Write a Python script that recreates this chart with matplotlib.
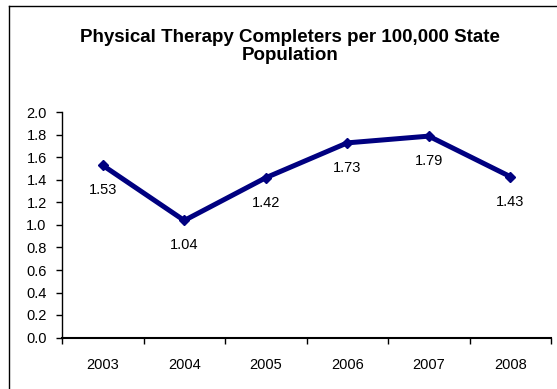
import matplotlib.pyplot as plt
from matplotlib.lines import Line2D

plt.rcParams['font.family'] = ['Liberation Sans', 'DejaVu Sans']

years = ['2003', '2004', '2005', '2006', '2007', '2008']
values = [1.53, 1.04, 1.42, 1.73, 1.79, 1.43]
yticks = [0.0, 0.2, 0.4, 0.6, 0.8, 1.0, 1.2, 1.4, 1.6, 1.8, 2.0]

W, H = 557, 389
fig = plt.figure(figsize=(W / 100, H / 100), dpi=100)
ax = fig.add_axes([62 / W, (H - 337.5) / H, (551 - 62) / W, 225 / H])

x = [i + 0.5 for i in range(len(years))]
ax.plot(x, values, color='#000080', lw=3.6, marker='D', ms=5,
        mec='#000080', mfc='#000080', solid_joinstyle='miter')
for xi, v in zip(x, values):
    ax.annotate('%.2f' % v, (xi, v), xytext=(0, -18), textcoords='offset points',
                ha='center', va='center', fontsize=10.5)

ax.set_xlim(0, len(years))
ax.set_ylim(0, 2.0)
ax.set_yticks(yticks)
ax.set_yticklabels(['%.1f' % t for t in yticks], fontsize=10.5)
ax.set_xticks(range(len(years) + 1))
ax.set_xticklabels([])
ax.set_xticks(x, minor=True)
ax.set_xticklabels(years, minor=True, fontsize=10.5)
ax.tick_params(axis='x', which='major', direction='out', length=4, width=1)
ax.tick_params(axis='x', which='minor', length=0, pad=15)
ax.tick_params(axis='y', direction='out', length=4, width=1, pad=7)

for s in ['top', 'right']:
    ax.spines[s].set_visible(False)
ax.spines['left'].set_linewidth(1)
ax.spines['bottom'].set_linewidth(1.5)

fig.text(290 / W, 1 - 46.5 / H, 'Physical Therapy Completers per 100,000 State\nPopulation',
         ha='center', va='center', fontsize=13.5, fontweight='bold', linespacing=1.05)

# chart frame (cropped at right and bottom)
fig.add_artist(Line2D([8.5 / W, 8.5 / W], [0, 1 - 5.5 / H], color='black', lw=1))
fig.add_artist(Line2D([8.5 / W, 1], [1 - 5.5 / H, 1 - 5.5 / H], color='black', lw=1))

fig.savefig('out.png', dpi=100)
